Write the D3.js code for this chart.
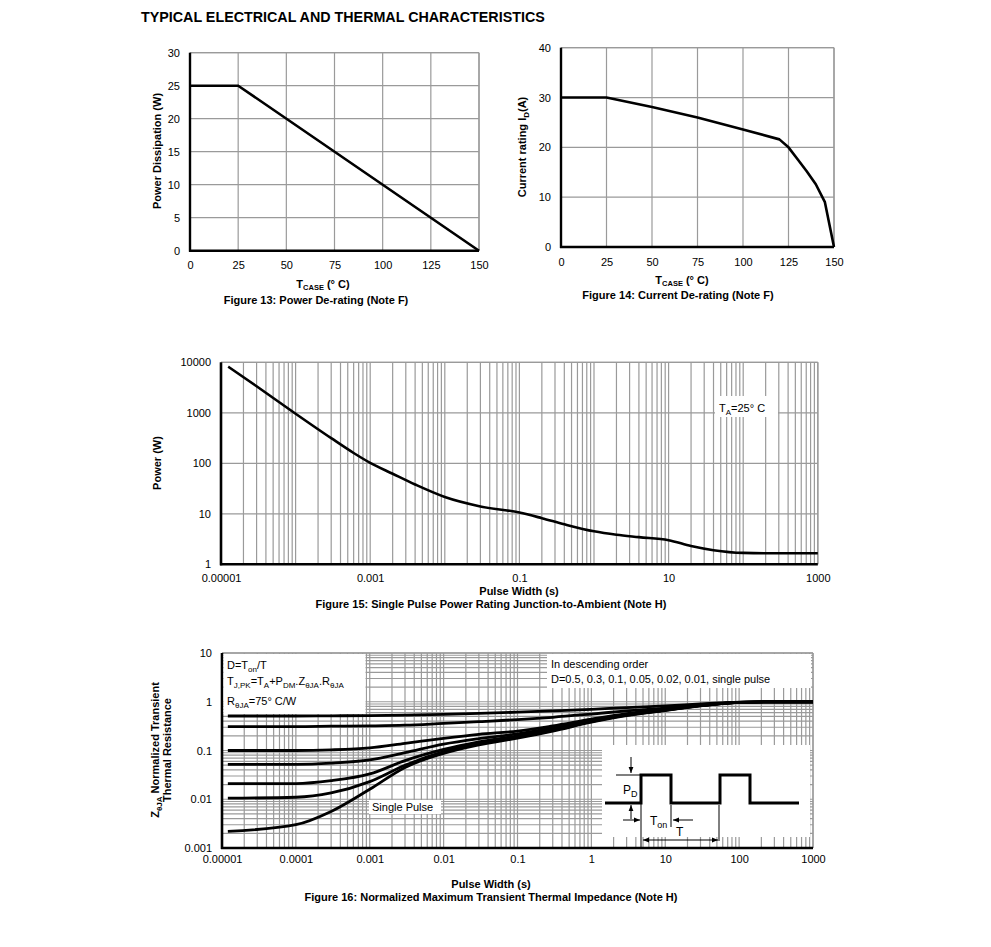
<!DOCTYPE html>
<html><head><meta charset="utf-8">
<script src="https://cdn.jsdelivr.net/npm/d3@7"></script>
<style>
body{margin:0;background:#fff;}
text{font-family:"Liberation Sans", Arial, sans-serif;}
</style></head><body>
<svg id="c" width="991" height="947"></svg>
<script>
// ---------------- DATA ----------------
const fig13Temp = [0, 25, 150];
const fig13Power = [25, 25, 0];
const fig13XTicks = [0, 25, 50, 75, 100, 125, 150];
const fig13YTicks = [0, 5, 10, 15, 20, 25, 30];

const fig14Temp = [0, 25, 50, 75, 100, 120, 125, 130, 135, 140, 145, 150];
const fig14Current = [30, 30, 28.1, 26, 23.6, 21.6, 20, 17.6, 15.2, 12.6, 9, 0];
const fig14XTicks = [0, 25, 50, 75, 100, 125, 150];
const fig14YTicks = [0, 10, 20, 30, 40];

const fig15Pulse = [1.25e-5, 3e-5, 1e-4, 3e-4, 6e-4, 1e-3, 2e-3, 4e-3, 1e-2, 3e-2, 0.1, 0.2, 0.4, 1, 2, 4, 10, 20, 40, 100, 200, 1000];
const fig15Power = [8200, 3350, 960, 315, 160, 102, 62, 38, 21.5, 14, 10.6, 8.2, 6.2, 4.5, 3.85, 3.45, 3.0, 2.3, 1.9, 1.68, 1.66, 1.66];
const fig15XTickLabels = ["0.00001", "0.001", "0.1", "10", "1000"];
const fig15YTickLabels = ["1", "10", "100", "1000", "10000"];

const fig16Pulse = [1.2e-5, 1e-4, 3e-4, 1e-3, 3e-3, 1e-2, 3e-2, 0.1, 0.3, 1, 3, 10, 30, 100, 300, 1000];
const fig16D05 = [0.51, 0.51, 0.515, 0.52, 0.53, 0.55, 0.575, 0.61, 0.65, 0.70, 0.76, 0.82, 0.9, 0.98, 1.0, 1.0];
const fig16D03 = [0.31, 0.31, 0.315, 0.32, 0.33, 0.36, 0.39, 0.43, 0.48, 0.56, 0.65, 0.74, 0.87, 0.97, 1.0, 1.0];
const fig16D01 = [0.1, 0.1, 0.103, 0.113, 0.14, 0.178, 0.215, 0.25, 0.32, 0.44, 0.57, 0.7, 0.85, 0.97, 1.0, 1.0];
const fig16D005 = [0.052, 0.052, 0.055, 0.064, 0.09, 0.135, 0.175, 0.22, 0.29, 0.42, 0.55, 0.68, 0.84, 0.97, 1.0, 1.0];
const fig16D002 = [0.021, 0.021, 0.024, 0.033, 0.062, 0.105, 0.15, 0.2, 0.27, 0.4, 0.54, 0.67, 0.83, 0.97, 1.0, 1.0];
const fig16D001 = [0.0105, 0.011, 0.0135, 0.023, 0.05, 0.095, 0.14, 0.19, 0.26, 0.39, 0.53, 0.67, 0.83, 0.97, 1.0, 1.0];
const fig16Single = [0.0022, 0.003, 0.0056, 0.016, 0.045, 0.087, 0.13, 0.18, 0.25, 0.38, 0.52, 0.66, 0.82, 0.97, 1.0, 1.0];
const fig16XTickLabels = ["0.00001", "0.0001", "0.001", "0.01", "0.1", "1", "10", "100", "1000"];
const fig16YTickLabels = ["0.001", "0.01", "0.1", "1", "10"];

// ---------------- DRAW ----------------
const svg = d3.select("#c");
const GRID = "#9a9a9a";

svg.append("text").attr("x", 141).attr("y", 22).attr("font-size", 14.3)
  .attr("font-weight", "bold").text("TYPICAL ELECTRICAL AND THERMAL CHARACTERISTICS");

function styleAxisText(sel) {
  sel.attr("font-family", '"Liberation Sans", Arial, sans-serif').attr("font-size", 11);
  sel.select(".domain").remove();
  sel.selectAll("text").attr("fill", "#000");
}

function drawFrame(g, x, y, lw) {
  const [x0, x1] = x.range(), [y0, y1] = y.range();
  g.append("line").attr("x1", x1).attr("x2", x1).attr("y1", y0).attr("y2", y1).attr("stroke", GRID).attr("stroke-width", 1.3);
  g.append("line").attr("x1", x0).attr("x2", x1).attr("y1", y1).attr("y2", y1).attr("stroke", GRID).attr("stroke-width", 1.3);
  g.append("line").attr("x1", x0).attr("x2", x0).attr("y1", y0 + 1).attr("y2", y1).attr("stroke", "#000").attr("stroke-width", lw);
  g.append("line").attr("x1", x0 - 1).attr("x2", x1).attr("y1", y0).attr("y2", y0).attr("stroke", "#000").attr("stroke-width", lw);
}

function gridLines(g, x, y, xv, yv) {
  const [x0, x1] = x.range(), [y0, y1] = y.range();
  g.append("g").selectAll("line").data(xv).join("line")
    .attr("x1", d => x(d)).attr("x2", d => x(d)).attr("y1", y0).attr("y2", y1)
    .attr("stroke", GRID).attr("stroke-width", 1.2);
  g.append("g").selectAll("line").data(yv).join("line")
    .attr("y1", d => y(d)).attr("y2", d => y(d)).attr("x1", x0).attr("x2", x1)
    .attr("stroke", GRID).attr("stroke-width", 1.2);
}

function tcaseLabel(g, cx, by) {
  const t = g.append("text").attr("x", cx).attr("y", by).attr("text-anchor", "middle")
    .attr("font-size", 11).attr("font-weight", "bold");
  t.append("tspan").text("T");
  t.append("tspan").attr("font-size", 7.5).attr("dy", 2).text("CASE");
  t.append("tspan").attr("dy", -2).text(" (° C)");
}

function caption(g, cx, by, s) {
  g.append("text").attr("x", cx).attr("y", by).attr("text-anchor", "middle")
    .attr("font-size", 11).attr("font-weight", "bold").text(s);
}

// ---- Figure 13 ----
{
  const g = svg.append("g");
  const x = d3.scaleLinear().domain([0, 150]).range([190, 479]);
  const y = d3.scaleLinear().domain([0, 30]).range([250.7, 52.7]);
  gridLines(g, x, y, fig13XTicks, fig13YTicks);
  drawFrame(g, x, y, 2.4);
  g.append("g").attr("transform", `translate(${x.range()[0]},0)`)
    .call(d3.axisLeft(y).tickValues(fig13YTicks).tickSize(0).tickPadding(10)).call(styleAxisText);
  g.append("g").attr("transform", `translate(0,${y.range()[0]})`)
    .call(d3.axisBottom(x).tickValues(fig13XTicks).tickSize(0).tickPadding(11)).call(styleAxisText);
  const pts = fig13Temp.map((t, i) => [t, fig13Power[i]]);
  g.append("path").datum(pts).attr("fill", "none").attr("stroke", "#000").attr("stroke-width", 2.6)
    .attr("d", d3.line().x(d => x(d[0])).y(d => y(d[1])));
  g.append("text").attr("transform", "translate(161,151) rotate(-90)").attr("text-anchor", "middle")
    .attr("font-size", 11).attr("font-weight", "bold").text("Power Dissipation (W)");
  tcaseLabel(g, 323, 288);
  caption(g, 316, 304, "Figure 13: Power De-rating (Note F)");
}

// ---- Figure 14 ----
{
  const g = svg.append("g");
  const x = d3.scaleLinear().domain([0, 150]).range([561, 834]);
  const y = d3.scaleLinear().domain([0, 40]).range([247, 47.7]);
  gridLines(g, x, y, fig14XTicks, fig14YTicks);
  drawFrame(g, x, y, 2.4);
  g.append("g").attr("transform", `translate(${x.range()[0]},0)`)
    .call(d3.axisLeft(y).tickValues(fig14YTicks).tickSize(0).tickPadding(10)).call(styleAxisText);
  g.append("g").attr("transform", `translate(0,${y.range()[0]})`)
    .call(d3.axisBottom(x).tickValues(fig14XTicks).tickSize(0).tickPadding(11)).call(styleAxisText);
  const pts = fig14Temp.map((t, i) => [t, fig14Current[i]]);
  g.append("path").datum(pts).attr("fill", "none").attr("stroke", "#000").attr("stroke-width", 2.6)
    .attr("stroke-linejoin", "round")
    .attr("d", d3.line().x(d => x(d[0])).y(d => y(d[1])));
  const t = g.append("text").attr("transform", "translate(526,147) rotate(-90)").attr("text-anchor", "middle")
    .attr("font-size", 11).attr("font-weight", "bold");
  t.append("tspan").text("Current rating I");
  t.append("tspan").attr("font-size", 8).attr("dy", 3).text("D");
  t.append("tspan").attr("dy", -3).text("(A)");
  tcaseLabel(g, 682, 284);
  caption(g, 678, 299, "Figure 14: Current De-rating (Note F)");
}

// ---- Figure 15 ----
{
  const g = svg.append("g");
  const x = d3.scaleLog().domain([1e-5, 1000]).range([221, 817.8]);
  const y = d3.scaleLog().domain([1, 10000]).range([564.3, 362.3]);
  const yDec = fig15YTickLabels.map(Number);
  gridLines(g, x, y, x.ticks(), yDec);
  drawFrame(g, x, y, 2.6);
  g.append("g").attr("transform", `translate(${x.range()[0]},0)`)
    .call(d3.axisLeft(y).tickValues(yDec).tickFormat((d, i) => fig15YTickLabels[i]).tickSize(0).tickPadding(10))
    .call(styleAxisText);
  g.append("g").attr("transform", `translate(0,${y.range()[0]})`)
    .call(d3.axisBottom(x).tickValues(fig15XTickLabels.map(Number)).tickFormat((d, i) => fig15XTickLabels[i]).tickSize(0).tickPadding(10))
    .call(styleAxisText);
  // T_A box
  g.append("rect").attr("x", 715).attr("y", 396).attr("width", 63).attr("height", 21).attr("fill", "#fff");
  const ta = g.append("text").attr("x", 719).attr("y", 412).attr("font-size", 11);
  ta.append("tspan").text("T");
  ta.append("tspan").attr("font-size", 8).attr("dy", 3).text("A");
  ta.append("tspan").attr("dy", -3).text("=25° C");
  const pts = fig15Pulse.map((t, i) => [t, fig15Power[i]]);
  g.append("path").datum(pts).attr("fill", "none").attr("stroke", "#000").attr("stroke-width", 2.6)
    .attr("d", d3.line().x(d => x(d[0])).y(d => y(d[1])).curve(d3.curveMonotoneX));
  g.append("text").attr("transform", "translate(161,463) rotate(-90)").attr("text-anchor", "middle")
    .attr("font-size", 11).attr("font-weight", "bold").text("Power (W)");
  caption(g, 519, 595, "Pulse Width (s)");
  caption(g, 491, 608, "Figure 15: Single Pulse Power Rating Junction-to-Ambient (Note H)");
}

// ---- Figure 16 ----
{
  const g = svg.append("g");
  const x = d3.scaleLog().domain([1e-5, 1000]).range([222, 813]);
  const y = d3.scaleLog().domain([0.001, 10]).range([848, 653]);
  gridLines(g, x, y, x.ticks(), y.ticks());
  drawFrame(g, x, y, 2.6);
  g.append("g").attr("transform", `translate(${x.range()[0]},0)`)
    .call(d3.axisLeft(y).tickValues(fig16YTickLabels.map(Number)).tickFormat((d, i) => fig16YTickLabels[i]).tickSize(0).tickPadding(10))
    .call(styleAxisText);
  g.append("g").attr("transform", `translate(0,${y.range()[0]})`)
    .call(d3.axisBottom(x).tickValues(fig16XTickLabels.map(Number)).tickFormat((d, i) => fig16XTickLabels[i]).tickSize(0).tickPadding(7))
    .call(styleAxisText);

  // white boxes
  g.append("rect").attr("x", 223.5).attr("y", 654).attr("width", 142).attr("height", 60).attr("fill", "#fff");
  g.append("rect").attr("x", 547).attr("y", 654).attr("width", 264).attr("height", 34).attr("fill", "#fff");
  g.append("rect").attr("x", 602).attr("y", 745).attr("width", 208).attr("height", 92).attr("fill", "#fff");
  g.append("rect").attr("x", 369).attr("y", 800).attr("width", 72).attr("height", 14).attr("fill", "#fff");

  // legend text
  const t1 = g.append("text").attr("x", 227).attr("y", 669).attr("font-size", 11);
  t1.append("tspan").text("D=T");
  t1.append("tspan").attr("font-size", 8).attr("dy", 3).text("on");
  t1.append("tspan").attr("dy", -3).text("/T");
  const t2 = g.append("text").attr("x", 227).attr("y", 685).attr("font-size", 11);
  const parts = [["T", 0], ["J,PK", 1], ["=T", 0], ["A", 1], ["+P", 0], ["DM", 1], [".Z", 0], ["θJA", 1], [".R", 0], ["θJA", 1]];
  let prev = 0;
  parts.forEach(([s, sub]) => {
    t2.append("tspan").attr("font-size", sub ? 8 : 11).attr("dy", (sub - prev) * 3).text(s);
    prev = sub;
  });
  const t3 = g.append("text").attr("x", 227).attr("y", 705).attr("font-size", 11);
  t3.append("tspan").text("R");
  t3.append("tspan").attr("font-size", 8).attr("dy", 3).text("θJA");
  t3.append("tspan").attr("dy", -3).text("=75° C/W");
  g.append("text").attr("x", 551).attr("y", 668).attr("font-size", 11).text("In descending order");
  g.append("text").attr("x", 551).attr("y", 683).attr("font-size", 11).text("D=0.5, 0.3, 0.1, 0.05, 0.02, 0.01, single pulse");
  g.append("text").attr("x", 372).attr("y", 811).attr("font-size", 11).text("Single Pulse");

  // curves
  const series = [fig16D05, fig16D03, fig16D01, fig16D005, fig16D002, fig16D001, fig16Single];
  const line = d3.line().x(d => x(d[0])).y(d => y(d[1])).curve(d3.curveMonotoneX);
  g.append("g").selectAll("path").data(series).join("path")
    .attr("fill", "none").attr("stroke", "#000").attr("stroke-width", 2.8)
    .attr("d", s => line(fig16Pulse.map((p, i) => [p, s[i]])));

  // pulse diagram inset
  const defs = svg.append("defs");
  defs.append("marker").attr("id", "ah").attr("viewBox", "0 0 10 10").attr("refX", 10).attr("refY", 5)
    .attr("markerWidth", 6).attr("markerHeight", 6).attr("orient", "auto-start-reverse")
    .append("path").attr("d", "M0,1 L10,5 L0,9 z").attr("fill", "#000");
  const p = g.append("g").attr("transform", "translate(601,745)");
  p.append("path").attr("d", "M4,58 H40 V30 H70 V58 H119 V30 H149 V58 H198")
    .attr("fill", "none").attr("stroke", "#000").attr("stroke-width", 3);
  const thin = (x1, y1, x2, y2) => p.append("line").attr("x1", x1).attr("y1", y1).attr("x2", x2).attr("y2", y2)
    .attr("stroke", "#000").attr("stroke-width", 1);
  thin(15, 30, 40, 30);
  thin(30, 12, 30, 28).attr("marker-end", "url(#ah)");
  thin(30, 74, 30, 60).attr("marker-end", "url(#ah)");
  thin(40, 58, 40, 103);
  thin(70, 60, 70, 82);
  thin(118, 60, 118, 96);
  thin(22, 75, 39, 75).attr("marker-end", "url(#ah)");
  thin(92, 75, 72, 75).attr("marker-end", "url(#ah)");
  thin(42, 95, 117, 95).attr("marker-end", "url(#ah)").attr("marker-start", "url(#ah)");
  const pd = p.append("text").attr("x", 22).attr("y", 49).attr("font-size", 12);
  pd.append("tspan").text("P");
  pd.append("tspan").attr("font-size", 9).attr("dy", 3).text("D");
  const ton = p.append("text").attr("x", 49).attr("y", 80).attr("font-size", 12);
  ton.append("tspan").text("T");
  ton.append("tspan").attr("font-size", 9).attr("dy", 3).text("on");
  p.append("text").attr("x", 75).attr("y", 91).attr("font-size", 12).text("T");

  // y title (two lines)
  const yt = g.append("text").attr("transform", "translate(159,750) rotate(-90)").attr("text-anchor", "middle")
    .attr("font-size", 11).attr("font-weight", "bold");
  yt.append("tspan").text("Z");
  yt.append("tspan").attr("font-size", 8).attr("dy", 3).text("θJA");
  yt.append("tspan").attr("dy", -3).text(" Normalized Transient");
  g.append("text").attr("transform", "translate(171,750) rotate(-90)").attr("text-anchor", "middle")
    .attr("font-size", 11).attr("font-weight", "bold").text("Thermal Resistance");

  caption(g, 491, 888, "Pulse Width (s)");
  caption(g, 491, 901, "Figure 16: Normalized Maximum Transient Thermal Impedance (Note H)");
}
</script>
</body></html>
